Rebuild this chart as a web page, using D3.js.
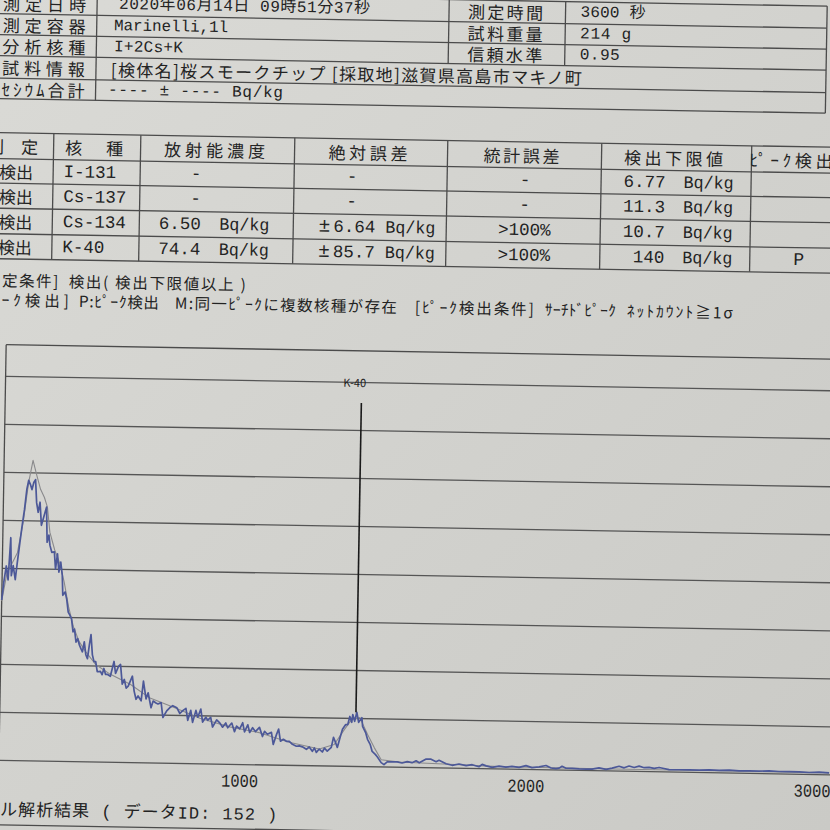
<!DOCTYPE html>
<html lang="ja">
<head>
<meta charset="utf-8">
<title>スペクトル解析結果</title>
<script src="https://cdn.jsdelivr.net/npm/d3@7/dist/d3.min.js"></script>
<style>
html,body{margin:0;padding:0;background:#d2d2ce;overflow:hidden;}
svg{display:block;}
</style>
</head>
<body>
<svg id="chart" width="830" height="830"></svg>
<script>
// ---------------- data ----------------
const infoLabels = ["測定日時","測定容器","分析核種","試料情報","ｾｼｳﾑ合計"];
const infoValues = ["2020年06月14日 09時51分37秒","Marinelli,1l","I+2Cs+K","[検体名]桜スモークチップ [採取地]滋賀県高島市マキノ町","---- ± ---- Bq/kg"];
const infoLabels2 = ["測定時間","試料重量","信頼水準"];
const infoValues2 = ["3600 秒","214 g","0.95"];

const resultHeaders = ["判　定","核　種","放射能濃度","絶対誤差","統計誤差","検出下限値","ﾋﾟｰｸ検出"];
const judgements = ["不検出","不検出","不検出","不検出"];
const nuclides = ["I-131","Cs-137","Cs-134","K-40"];
const concentrations = ["-","-","6.50","74.4"];
const absoluteErrors = ["-","-","±6.64","±85.7"];
const statisticalErrors = ["-","-",">100%",">100%"];
const detectionLimits = ["6.77","11.3","10.7","140"];
const peakFlags = ["","","","P"];
const unitText = "Bq/kg";

const noteLine1 = ["[判定条件]","検出( 検出下限値以上 )"];
const noteLine2 = ["[ﾋﾟｰｸ検出]","P:ﾋﾟｰｸ検出","M:同一ﾋﾟｰｸに複数核種が存在","[ﾋﾟｰｸ検出条件]","ｻｰﾁﾄﾞﾋﾟｰｸ","ﾈｯﾄｶｳﾝﾄ≧1σ"];
const footerTitle = "スペクトル解析結果 ( データID: 152 )";

// measured spectrum (channel, counts)
const channels = [
 160,166,174,181,188,192,198,206,212,220,
 227,234,241,247,253,259,265,271,276,282,
 288,294,300,306,311,315,321,325,332,341,
 346,352,358,364,370,373,381,387,393,399,
 405,411,416,422,428,434,440,445,451,457,
 463,469,474,480,486,492,498,509,515,521,
 527,533,544,556,562,572,579,586,593,600,
 607,621,628,635,642,653,660,670,677,688,
 695,705,712,723,730,743,754,764,778,789,
 799,810,817,827,834,845,852,862,869,880,
 887,897,904,918,929,939,950,957,971,981,
 988,999,1009,1016,1027,1034,1044,1054,1068,1079,
 1086,1096,1110,1117,1128,1135,1142,1152,1163,1173,
 1184,1198,1208,1219,1233,1243,1254,1261,1268,1278,
 1289,1296,1306,1320,1327,1334,1341,1351,1358,1369,
 1376,1383,1390,1393,1400,1407,1414,1425,1428,1439,
 1446,1456,1463,1474,1481,1495,1505,1516,1533,1551,
 1568,1586,1603,1617,1628,1652,1669,1687,1697,1722,
 1743,1767,1792,1813,1837,1848,1862,1883,1907,1931,
 1952,1977,2001,2022,2047,2071,2089,2106,2117,2127,
 2141,2162,2187,2211,2232,2256,2281,2302,2326,2344,
 2361,2379,2396,2414,2431,2449,2466,2483,2501,2536,
 2571,2606,2641,2676,2711,2746,2781,2815,2850,2885,
 2920,2955,2990,3025,3060
];
const counts = [
 333,369,404,375,463,384,405,376,411,453,
 489,522,564,583,575,564,579,585,537,517,
 538,490,503,517,528,455,470,449,434,435,
 399,431,393,414,387,345,352,337,310,304,
 296,269,275,248,255,242,234,228,249,222,
 214,243,264,222,208,208,187,188,181,194,
 182,182,178,209,184,199,203,162,172,154,
 158,179,148,131,138,128,169,132,145,114,
 128,124,122,125,94,108,115,119,115,103,
 109,114,89,110,85,110,96,113,86,96,
 90,96,76,91,85,76,85,75,85,67,
 79,73,86,67,82,66,76,68,77,58,
 69,63,67,42,63,74,49,53,49,49,
 43,39,40,38,33,38,29,36,27,34,
 28,36,30,38,59,49,38,61,76,86,
 86,103,91,107,93,112,91,101,83,70,
 56,45,31,25,20,8,4,10,10,10,
 8,11,9,13,9,17,17,12,15,8,
 5,8,5,7,3,8,5,2,5,3,
 5,3,7,3,5,8,3,2,3,7,
 3,3,2,2,2,5,2,5,9,6,
 10,7,10,7,8,6,8,6,4,4,
 4,4,5,4,5,4,4,4,5,4,
 4,4,3,4,3
];
// smoothed (fitted) spectrum
const fitChannels = [160,177,195,212,230,247,261,275,289,303,314,324,342,359,377,394,412,433,457,492,544,614,684,771,859,964,1068,1173,1278,1330,1365,1390,1418,1446,1470,1495,1558,1732,1907,2256,2606,3060];
const fitCounts   = [331,390,411,432,495,579,625,594,565,548,528,476,439,414,373,321,280,249,228,202,182,162,134,115,94,77,66,47,34,44,76,97,101,66,39,14,10,7,4,3,3,3];

const xTickValues = [1000,2000,3000];
const yGridValues = [0,100,200,300,400,500,600,700,800];
const peakNames = ["K-40"];
const peakChannels = [1404];

// ---------------- drawing ----------------
const W = 830, H = 830;
const INK = "#232323", RULE = "#4b4b4b";
const JP = "'Noto Sans CJK JP','Noto Sans',sans-serif";
const MONO = "'Liberation Mono','DejaVu Sans Mono','Noto Sans CJK JP',monospace";

const svg = d3.select("#chart");
const defs = svg.append("defs");
const grad = defs.append("linearGradient").attr("id","paper")
  .attr("x1","0").attr("y1","0").attr("x2","1").attr("y2","1");
grad.append("stop").attr("offset","0").attr("stop-color","#dadad6");
grad.append("stop").attr("offset","1").attr("stop-color","#cacac6");
svg.append("rect").attr("width",W).attr("height",H).attr("fill","url(#paper)");

// the photographed sheet is turned about one degree
const page = svg.append("g").attr("transform","rotate(1 415 415)");

function rule(g,x1,y1,x2,y2,w){
  return g.append("line").attr("x1",x1).attr("y1",y1).attr("x2",x2).attr("y2",y2)
   .attr("stroke",RULE).attr("stroke-width",w||1.3);
}
function fit(t,w){
  const n = t.node().getComputedTextLength();
  if (w && n) t.attr("textLength",w).attr("lengthAdjust", n > w ? "spacingAndGlyphs" : "spacing");
}
function label(g,s,x,y,o){
  o = o || {};
  const t = g.append("text").attr("x",x).attr("y",y).text(s)
    .attr("font-family",o.font||JP).attr("font-size",o.size||17)
    .attr("fill",INK).attr("dominant-baseline","central")
    .attr("text-anchor",o.anchor||"start");
  if (o.w) fit(t,o.w);
  return t;
}

// --- table 1: measurement information ---
const t1 = page.append("g");
const t1Y = [-1,21,42,63,85.5,106];
t1Y.forEach(v => rule(t1,-10,v,820,v));
rule(t1,90,-1,90,106); rule(t1,442,-1,442,63); rule(t1,558.5,-1,558.5,63); rule(t1,820,-1,820,106);
const mid1 = i => (t1Y[i]+t1Y[i+1])/2;
infoLabels.forEach((s,i) => label(t1,s,-4,mid1(i),{size:17,w:83}));
const valX = [112,107.4,107.6,105,102.4], valW = [251,114,69,471,175];
infoValues.forEach((s,i) => label(t1,s,valX[i],mid1(i),{size:i===3?17:16,font:i===3?JP:MONO,w:valW[i]}));
infoLabels2.forEach((s,i) => label(t1,s,461,mid1(i),{size:17,w:75}));
const v2W = [65,51,40];
infoValues2.forEach((s,i) => label(t1,s,573.5,mid1(i),{size:16,font:MONO,w:v2W[i]}));

// --- table 2: nuclide results ---
const t2 = page.append("g");
const t2Y = [140,166,190.5,215.5,241,266];
t2Y.forEach(v => rule(t2,-10,v,840,v));
const colEdges = [49,136,290,443,597,747,832];
colEdges.slice(0,6).forEach(v => rule(t2,v,140,v,266));
const hMid = (t2Y[0]+t2Y[1])/2;
label(t2,resultHeaders[0],33.5,hMid,{size:17,anchor:"end"});
const hW = [58,101,79,76,99,83];
resultHeaders.slice(1).forEach((s,i) =>
  label(t2,s,(colEdges[i]+colEdges[i+1])/2-3,hMid,{size:17,anchor:"middle",w:hW[i]}));

function valueCell(g,val,numEnd,unitX,dashX,cy){
  if (val === "-") { label(g,"-",dashX,cy,{font:MONO,size:17,anchor:"middle"}); return; }
  if (val.charAt(0) === "±") {
    const t = label(g,"",numEnd,cy,{font:MONO,size:17.5,anchor:"end"});
    t.append("tspan").attr("font-size",19.5).text("±");
    t.append("tspan").attr("dx",3).text(val.slice(1));
  } else {
    label(g,val,numEnd,cy,{font:MONO,size:17.5,anchor:"end"});
  }
  label(g,unitText,unitX,cy,{font:MONO,size:17.5,w:50});
}
nuclides.forEach((n,i) => {
  const cy = (t2Y[i+1]+t2Y[i+2])/2;
  label(t2,judgements[i],29,cy,{size:17,anchor:"end"});
  label(t2,n,59.5,cy,{font:MONO,size:17.5});
  valueCell(t2,concentrations[i],197.5,216,192,cy);
  valueCell(t2,absoluteErrors[i],372,382,348,cy);
  label(t2,statisticalErrors[i],521,cy,{font:MONO,size:17.5,anchor:"middle"});
  label(t2,detectionLimits[i],661.5,cy,{font:MONO,size:17.5,anchor:"end"});
  label(t2,unitText,679.5,cy,{font:MONO,size:17.5,w:50});
  if (peakFlags[i]) label(t2,peakFlags[i],796,cy,{font:MONO,size:18,anchor:"middle"});
});

// --- notes ---
const nY1 = 286.5, nY2 = 306;
label(page,noteLine1[0],56,nY1,{size:15.5,anchor:"end",w:80});
label(page,noteLine1[1],66.5,nY1,{size:15.5,w:177});
const n2X = [67,77,173,413,543,625], n2W = [96,80,222,119,71,106];
noteLine2.forEach((s,i) => label(page,s,n2X[i],nY2,{size:15.5,anchor:i===0?"end":"start",w:n2W[i]}));

// --- spectrum chart ---
const x = d3.scaleLinear().domain([160,3080]).range([5,841]);
const y = d3.scaleLinear().domain([0,865]).range([767,351.8]);
const chart = page.append("g");

// horizontal grid
const grid = chart.append("g").attr("transform","translate(5,0)")
  .call(d3.axisRight(y).tickValues(yGridValues).tickSize(836).tickFormat(""));
grid.select(".domain").remove();
grid.selectAll(".tick line").attr("stroke","#555").attr("stroke-width",1.3);

// frame
rule(chart,5,y(865),841,y(865),1.3);
rule(chart,5,y(865),5,y(0),1.3);

// x axis labels
const xAxis = chart.append("g").attr("transform",`translate(0,${y(0)})`)
  .call(d3.axisBottom(x).tickValues(xTickValues).tickSize(0).tickPadding(10).tickFormat(d3.format("d")));
xAxis.select(".domain").remove();
xAxis.selectAll(".tick text").attr("font-family",MONO).attr("font-size",18).attr("fill",INK)
  .each(function(){ fit(d3.select(this),37); });

// spectra
const spec = channels.map((c,i) => ({ch:c, v:counts[i]}));
const fitted = fitChannels.map((c,i) => ({ch:c, v:fitCounts[i]}));
const lineGen = d3.line().x(d => x(d.ch)).y(d => y(d.v));
chart.append("path").datum(fitted).attr("d",lineGen).attr("fill","none")
  .attr("stroke","#8a8a8c").attr("stroke-width",1.1).attr("stroke-linejoin","round");
chart.append("path").datum(spec).attr("d",lineGen).attr("fill","none")
  .attr("stroke","#4c5898").attr("stroke-width",1.7).attr("stroke-linejoin","round");

// peak markers
peakNames.forEach((name,i) => {
  const pc = peakChannels[i];
  const px = x(pc);
  const topY = y(yGridValues[yGridValues.length-1]);
  const pv = d3.max(spec.filter(d => Math.abs(d.ch - pc) <= 20), d => d.v);
  rule(chart,px,topY+21,px,y(pv),1.6).attr("stroke","#1a1a1a");
  label(chart,name,px-7,topY,{font:JP,size:11,anchor:"middle"});
});

// --- footer ---
const ft = label(page,footerTitle,0,818,{font:MONO,size:17});
ft.attr("letter-spacing",1);
const pre = ft.node().getSubStringLength(0,4);
ft.attr("x",7-pre);
rule(page,-10,832,840,832,1.3);
</script>
</body>
</html>
